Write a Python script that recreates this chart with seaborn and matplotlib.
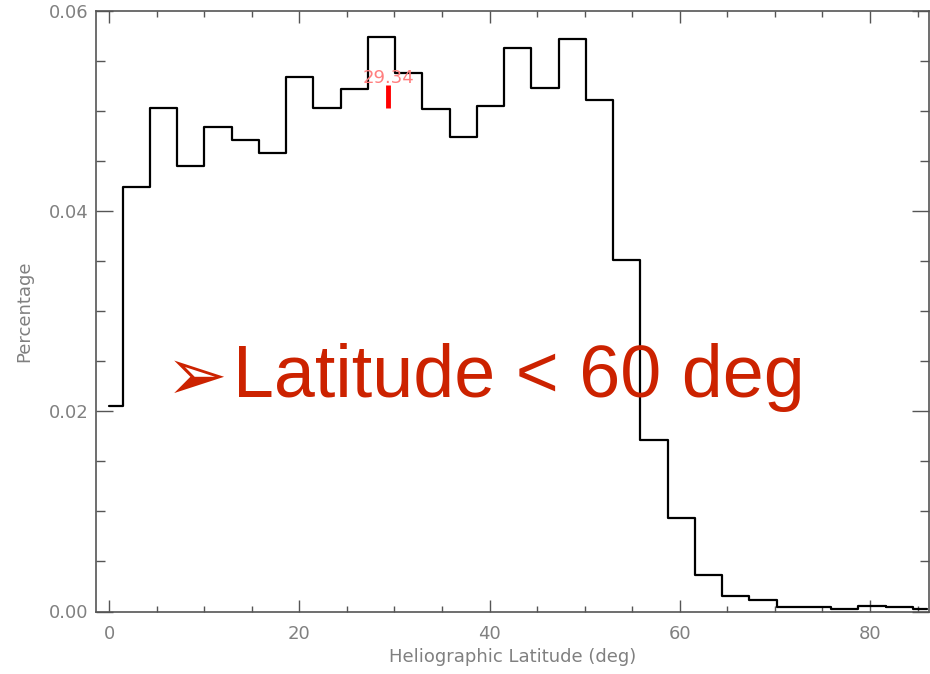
import numpy as np
import pandas as pd
import matplotlib
matplotlib.use("Agg")
import matplotlib.pyplot as plt
import seaborn as sns
from matplotlib.ticker import MultipleLocator, FormatStrFormatter

# ---- data (bin centres in degrees, fraction per bin) ----
lat_centers = [0.000, 2.865, 5.730, 8.594, 11.459, 14.324, 17.189, 20.054,
               22.918, 25.783, 28.648, 31.513, 34.377, 37.242, 40.107, 42.972,
               45.837, 48.701, 51.566, 54.431, 57.296, 60.161, 63.025, 65.890,
               68.755, 71.620, 74.485, 77.349, 80.214, 83.079, 85.944]
percentage = [0.0205, 0.0424, 0.0503, 0.0445, 0.0484, 0.0471, 0.0458, 0.0534,
              0.0503, 0.0522, 0.0574, 0.0538, 0.0502, 0.0474, 0.0505, 0.0563,
              0.0523, 0.0572, 0.0511, 0.0351, 0.0171, 0.0093, 0.0036, 0.0015,
              0.0011, 0.00046, 0.00046, 0.00026, 0.00053, 0.00043, 0.00023]
median_lat = 29.34
median_label = "29.34"
median_bar = [0.0503, 0.0526]
arrow_char = "\u27a2"
title_text = "Latitude < 60 deg"
xlabel = "Heliographic Latitude (deg)"
ylabel = "Percentage"

df = pd.DataFrame({"lat": lat_centers, "pct": percentage})

sns.set_theme(style="white")
plt.rcParams["font.family"] = ["DejaVu Sans"]

W, H = 930, 674
fig = plt.figure(figsize=(W / 100, H / 100), dpi=100)
L, R, T, B = 95.5, 929.0, 11.3, 611.5
ax = fig.add_axes([L / W, (H - B) / H, (R - L) / W, (B - T) / H])

sns.lineplot(data=df, x="lat", y="pct", ax=ax, color="black", linewidth=1.6,
             drawstyle="steps-mid", estimator=None, sort=True)

ax.set_xlim(-1.42, 86.2)
ax.set_ylim(0, 0.06)

axis_gray = "#555555"
label_gray = "#808080"
for s in ax.spines.values():
    s.set_color(axis_gray)
    s.set_linewidth(1.2)
    s.set_visible(True)

ax.xaxis.set_major_locator(MultipleLocator(20))
ax.xaxis.set_minor_locator(MultipleLocator(5))
ax.yaxis.set_major_locator(MultipleLocator(0.02))
ax.yaxis.set_minor_locator(MultipleLocator(0.005))
ax.xaxis.set_major_formatter(FormatStrFormatter("%d"))
ax.yaxis.set_major_formatter(FormatStrFormatter("%.2f"))

ax.tick_params(axis="both", which="both", direction="in", top=True, right=True,
               bottom=True, left=True, color=axis_gray, labelcolor=label_gray,
               labelsize=13)
ax.tick_params(axis="x", which="major", length=8.6, width=1.0, pad=10)
ax.tick_params(axis="x", which="minor", length=4.3, width=1.0)
ax.tick_params(axis="y", which="major", length=12.2, width=1.0, pad=5)
ax.tick_params(axis="y", which="minor", length=6.5, width=1.0)

ax.set_xlabel(xlabel, color=label_gray, fontsize=13, labelpad=3)
ax.set_ylabel(ylabel, color=label_gray, fontsize=13, labelpad=11)
ax.grid(False)

# median marker
ax.vlines(median_lat, median_bar[0], median_bar[1], color="red", linewidth=3.5)
ax.text(median_lat, 0.0533, median_label, color="#ff7f7f", fontsize=13,
        ha="center", va="center")

# big red annotation
red = "#cc2200"
fig.text(166 / W, (H - 371) / H, arrow_char, color=red, fontsize=53,
         family=["DejaVu Sans"], ha="left", va="center_baseline")
fig.text(232.7 / W, (H - 397) / H, title_text, color=red, fontsize=53,
         family=["Liberation Sans", "DejaVu Sans"], ha="left", va="baseline")

fig.savefig("out.png", dpi=100)
